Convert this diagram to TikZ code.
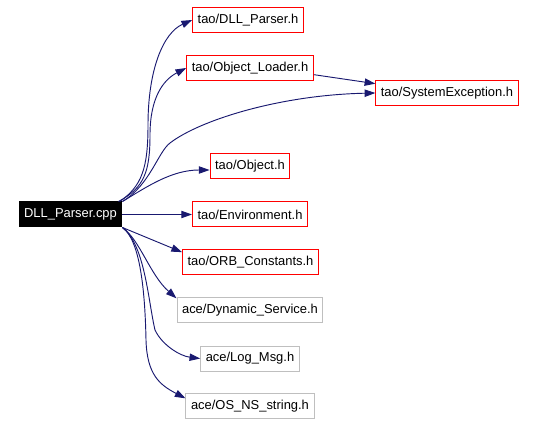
\documentclass[tikz,border=0pt]{standalone}
\usepackage{fontspec}
\setmainfont{Liberation Sans}
\usepackage{tikz}
\usetikzlibrary{arrows.meta,positioning}

\definecolor{edgeblue}{RGB}{25,25,112}
\definecolor{boxgray}{RGB}{191,191,191}

\begin{document}
\begin{tikzpicture}[
    x=0.75pt, y=-0.75pt,
    box/.style={rectangle, draw, line width=0.75pt, minimum height=18.75pt, inner xsep=3.8pt, inner ysep=0pt, font=\fontsize{9.7}{11}\selectfont},
    srcfile/.style={box, fill=black, text=white},
    taofile/.style={box, draw=red, fill=white},
    acefile/.style={box, draw=boxgray, fill=white},
    arrow/.style={-{Triangle[length=8pt, width=5.5pt]}, edgeblue, line width=0.7pt}
]
\useasboundingbox (0,0) rectangle (536,424);

% Source file
\node[srcfile] (src) at (70.5,214.5) {DLL\_Parser.cpp};

% Included headers
\node[taofile] (tDLL) at (248,20) {tao/DLL\_Parser.h};
\node[taofile] (tLoader) at (250,68) {tao/Object\_Loader.h};
\node[taofile] (tSysExc) at (447,93) {tao/SystemException.h};
\node[taofile] (tObject) at (250,166) {tao/Object.h};
\node[taofile] (tEnv) at (250,214.5) {tao/Environment.h};
\node[taofile] (tORB) at (250.5,262.5) {tao/ORB\_Constants.h};
\node[acefile] (tDyn) at (250,310) {ace/Dynamic\_Service.h};
\node[acefile] (tLog) at (250,358.5) {ace/Log\_Msg.h};
\node[acefile] (tOS) at (250,406) {ace/OS\_NS\_string.h};

% Upward edges
\draw[arrow] ([xshift=-2pt]src.north east) .. controls (142,186) and (148,168) .. (148,125)
    .. controls (148,70) and (163,33) .. (tDLL.west);
\draw[arrow] ([xshift=-3pt]src.north east) .. controls (144,188) and (150,172) .. (150,135)
    .. controls (150,98) and (163,80) .. (tLoader.west);
\draw[arrow] (src.north east) .. controls (150,185) and (158,152) .. (170,143)
    .. controls (200,120) and (280,95) .. (tSysExc.west);
\draw[arrow] (src.north east) .. controls (148,186) and (172,170) .. ([yshift=-3pt]tObject.west);

% Straight edges
\draw[arrow] (src.east) -- (tEnv.west);
\draw[arrow] (src.south east) -- ([yshift=-2pt]tORB.north west);

% Downward edges
\draw[arrow] (src.south east) .. controls (140,240) and (150,275) .. ([yshift=-1pt]tDyn.north west);
\draw[arrow] (src.south east) .. controls (145,245) and (148,300) .. (155,330)
    .. controls (162,345) and (180,356) .. (tLog.west);
\draw[arrow] (src.south east) .. controls (140,240) and (145,290) .. (146,340)
    .. controls (147,375) and (160,385) .. ([yshift=-4pt]tOS.north west);

% Header to header
\draw[arrow] ([yshift=-5pt]tLoader.east) -- ([yshift=7pt]tSysExc.west);
\end{tikzpicture}
\end{document}
